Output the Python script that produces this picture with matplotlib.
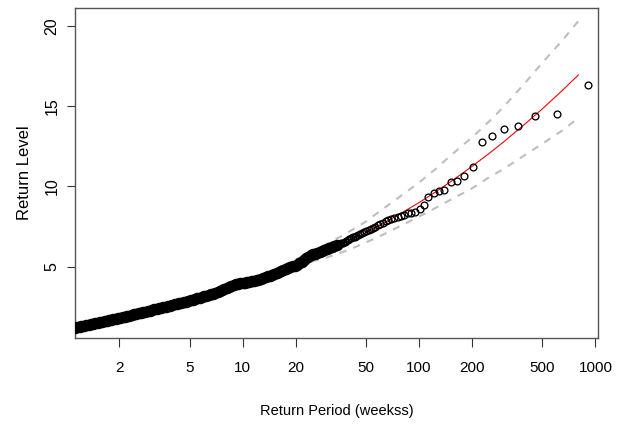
import matplotlib
matplotlib.use("Agg")
import matplotlib.pyplot as plt

# empirical points: return period (weeks) and observed return level
period_dense = [1.12, 1.15, 1.19, 1.22, 1.26, 1.30, 1.34, 1.38, 1.42, 1.46,
                1.51, 1.55, 1.60, 1.65, 1.70, 1.75, 1.80, 1.85, 1.91, 1.97,
                2.02, 2.09, 2.15, 2.21, 2.28, 2.35, 2.42, 2.49, 2.57, 2.64,
                2.72, 2.80, 2.89, 2.98, 3.07, 3.16, 3.25, 3.35, 3.45, 3.55,
                3.66, 3.77, 3.88, 4.00, 4.12, 4.24, 4.37, 4.50, 4.64, 4.78,
                4.92, 5.07, 5.22, 5.38, 5.54, 5.70, 5.87, 6.05, 6.23, 6.42,
                6.61, 6.81, 7.01, 7.22, 7.44, 7.66, 7.89, 8.13, 8.37, 8.62,
                8.88, 9.15, 9.42, 9.71, 10.0, 10.3, 10.6, 10.9, 11.3, 11.6,
                12.0, 12.3, 12.7, 13.1, 13.5, 13.9, 14.3, 14.7, 15.1, 15.6,
                16.1, 16.5, 17.0, 17.6, 18.1, 18.6, 19.2, 19.8, 20.4, 21.0,
                21.6, 22.3, 22.9, 23.6, 24.3, 25.0, 25.8, 26.5, 27.3, 28.2,
                29.0, 30.0, 31.0, 32.0, 33.1, 34.3]
level_dense = [1.20, 1.23, 1.26, 1.29, 1.32, 1.36, 1.39, 1.42, 1.45, 1.48,
               1.52, 1.54, 1.58, 1.61, 1.64, 1.67, 1.70, 1.73, 1.76, 1.79,
               1.82, 1.86, 1.89, 1.92, 1.96, 1.99, 2.03, 2.06, 2.10, 2.13,
               2.17, 2.20, 2.24, 2.27, 2.31, 2.35, 2.38, 2.41, 2.45, 2.48,
               2.52, 2.55, 2.58, 2.62, 2.65, 2.69, 2.72, 2.76, 2.79, 2.83,
               2.86, 2.90, 2.94, 2.98, 3.03, 3.07, 3.11, 3.15, 3.19, 3.23,
               3.28, 3.33, 3.39, 3.45, 3.50, 3.56, 3.62, 3.68, 3.74, 3.82,
               3.89, 3.93, 3.95, 3.97, 3.98, 4.00, 4.03, 4.06, 4.10, 4.13,
               4.17, 4.20, 4.24, 4.29, 4.34, 4.39, 4.44, 4.50, 4.55, 4.61,
               4.67, 4.73, 4.80, 4.87, 4.93, 4.98, 5.02, 5.05, 5.10, 5.20,
               5.32, 5.44, 5.54, 5.63, 5.70, 5.76, 5.82, 5.87, 5.93, 5.99,
               6.05, 6.12, 6.18, 6.24, 6.29, 6.34]

period_tail = [35.5, 36.2, 37.0, 37.8, 38.6, 39.4, 40.3, 41.2, 42.1, 43.1,
               44.2, 45.3, 46.4, 47.7, 49.0, 50.3, 51.8, 53.3, 54.9, 56.6,
               58.5, 60.4, 62.5, 64.7, 67.1, 69.7, 72.5, 75.5, 78.8, 82.4,
               86.3, 90.6, 95.4, 100.7, 106.6, 113, 121, 129, 139, 151,
               165, 181, 201, 226.5, 259, 302, 362, 453, 604, 906]
level_tail = [6.40, 6.46, 6.50, 6.55, 6.60, 6.65, 6.70, 6.76, 6.82, 6.88,
              6.94, 7.00, 7.06, 7.12, 7.18, 7.24, 7.30, 7.36, 7.42, 7.50,
              7.58, 7.66, 7.74, 7.82, 7.90, 7.97, 8.03, 8.10, 8.15, 8.22,
              8.32, 8.36, 8.42, 8.58, 8.84, 9.32, 9.57, 9.69, 9.75, 10.25,
              10.32, 10.62, 11.19, 12.78, 13.16, 13.57, 13.74, 14.40, 14.49, 16.31]

# fitted return level curve with confidence bounds
fit_period = [17, 20, 25, 30, 40, 50, 60, 75, 100, 125, 150, 200, 250, 300, 400, 500, 650, 800]
fit_level = [4.99, 5.26, 5.65, 6.00, 6.61, 7.13, 7.58, 8.18, 8.99, 9.68,
             10.27, 11.25, 12.06, 12.75, 13.90, 14.83, 15.98, 16.94]
ci_upper = [5.09, 5.45, 5.97, 6.41, 7.17, 7.81, 8.46, 9.23, 10.24, 11.11,
            11.89, 13.06, 14.05, 14.93, 16.46, 17.70, 19.10, 20.30]
ci_lower = [4.90, 5.07, 5.34, 5.57, 6.05, 6.51, 6.90, 7.43, 8.12, 8.68,
            9.15, 9.88, 10.57, 11.07, 11.97, 12.65, 13.49, 14.26]

xticks = [2, 5, 10, 20, 50, 100, 200, 500, 1000]
yticks = [5, 10, 15, 20]

narrow = ["Liberation Sans Narrow", "Liberation Sans", "DejaVu Sans"]
plt.rcParams["font.family"] = ["Liberation Sans", "DejaVu Sans"]

fig = plt.figure(figsize=(6.18, 4.24), dpi=100)
ax = fig.add_axes([74.7 / 618, 1 - 338 / 424, (598 - 74.7) / 618, 330 / 424])

ax.plot(fit_period, ci_upper, color="#bebebe", lw=1.5, dashes=(3.5, 3.5), zorder=1)
ax.plot(fit_period, ci_lower, color="#bebebe", lw=1.5, dashes=(3.5, 3.5), zorder=1)
ax.plot(fit_period, fit_level, color="red", lw=0.8, zorder=2)

# dense part drawn heavier so the overlapping circles merge into a solid band
ax.plot(period_dense, level_dense, ls="none", marker="o", ms=6.0, mfc="none",
        mec="black", mew=2.3, zorder=3)
ax.plot(period_tail, level_tail, ls="none", marker="o", ms=4.9, mfc="none",
        mec="black", mew=0.95, zorder=3)

ax.set_xscale("log")
ax.set_xlim(1.117, 1034)
ax.set_ylim(0.56, 21.11)
ax.minorticks_off()
ax.set_xticks(xticks)
ax.set_xticklabels([str(v) for v in xticks], family=narrow, fontsize=11)
ax.set_yticks(yticks)
ax.set_yticklabels([str(v) for v in yticks], fontsize=11.5, rotation=90, va="center")
ax.tick_params(axis="x", length=6.5, width=0.8, pad=10, colors="#333333", labelcolor="black")
ax.tick_params(axis="y", length=6, width=0.8, pad=5, colors="#333333", labelcolor="black")
for s in ax.spines.values():
    s.set_color("#555555")
    s.set_linewidth(1.0)

ax.set_xlabel("Return Period (weekss)", family=narrow, fontsize=10.5, labelpad=21)
ax.set_ylabel("Return Level", fontsize=12, labelpad=9)

fig.savefig("out.png", dpi=100)
